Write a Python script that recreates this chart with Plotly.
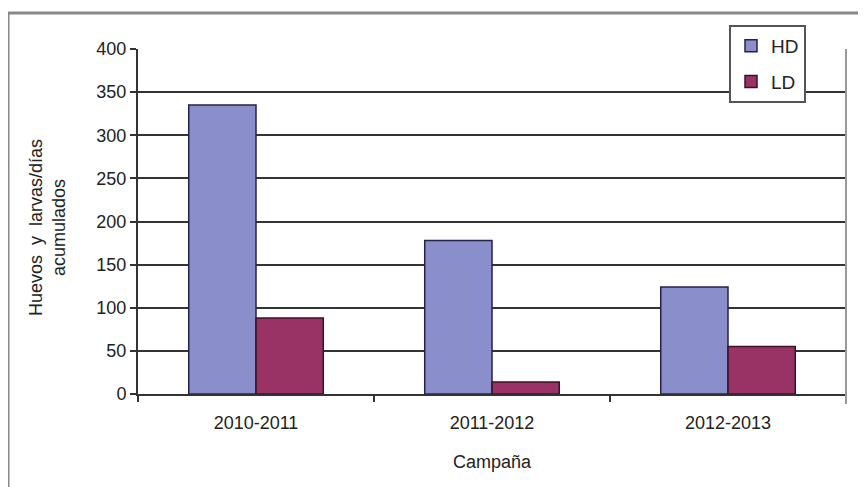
import plotly.graph_objects as go

campaigns = ["2010-2011", "2011-2012", "2012-2013"]
hd_values = [335, 178, 124]
ld_values = [88, 14, 55]
y_ticks = [0, 50, 100, 150, 200, 250, 300, 350, 400]

# page body has an 8px margin; compensate so screenshot coords match reference
OFF = 8
W, H = 866, 487
L, R, T, B = 138 - OFF, 20 + OFF, 49 - OFF, 93 + OFF
pw, ph = W - L - R, H - T - B

def px_x(x):
    return (x - OFF - L) / pw

def px_y(y):
    return (H - B - (y - OFF)) / ph

fig = go.Figure()
fig.add_trace(go.Bar(name="HD", x=campaigns, y=hd_values,
                     marker=dict(color="#8A8FCC", line=dict(color="#23234a", width=1.5)),
                     legendgroup="a"))
fig.add_trace(go.Bar(name="LD", x=campaigns, y=ld_values,
                     marker=dict(color="#993366", line=dict(color="#3a1226", width=1.5)),
                     legendgroup="b"))

font = "Liberation Sans, Arial, sans-serif"
fig.update_layout(
    width=W, height=H,
    margin=dict(l=L, r=R, t=T, b=B),
    paper_bgcolor="white", plot_bgcolor="white",
    barmode="group", bargap=0.43, bargroupgap=0,
    font=dict(family=font, size=18, color="#222"),
    showlegend=True,
    legend=dict(x=px_x(729), y=px_y(25), xanchor="left", yanchor="top",
                bgcolor="white", bordercolor="#555", borderwidth=2,
                font=dict(size=19, color="#222"), tracegroupgap=8,
                itemwidth=30),
    xaxis=dict(type="category", showgrid=False, showline=True, linecolor="#333", linewidth=2,
               ticks="outside", tickson="boundaries", ticklen=6, tickcolor="#333", tickwidth=2,
               ticklabelstandoff=11,
               tickfont=dict(size=18), title=dict(text="Campaña", font=dict(size=18), standoff=24)),
    yaxis=dict(range=[0, 400], tickvals=y_ticks, showgrid=True, gridcolor="#333", gridwidth=1.5,
               showline=True, linecolor="#333", linewidth=2, zeroline=False,
               ticks="outside", ticklen=6, tickcolor="#333", tickwidth=2,
               tickfont=dict(size=18)),
)

# y-axis title as two-line annotation
fig.add_annotation(text="Huevos  y  larvas/días<br>acumulados", xref="paper", yref="paper",
                   x=px_x(47), y=px_y(228), xanchor="center", yanchor="middle",
                   textangle=-90, showarrow=False, font=dict(size=18, color="#222"))

# right border of plot area
fig.add_shape(type="line", xref="paper", yref="paper", x0=1, x1=1, y0=px_y(404), y1=1,
              line=dict(color="#999", width=2))
# outer frame (top and left)
fig.add_shape(type="line", xref="paper", yref="paper", x0=px_x(8), x1=px_x(880), y0=px_y(13), y1=px_y(13),
              line=dict(color="#888", width=3))
fig.add_shape(type="line", xref="paper", yref="paper", x0=px_x(8), x1=px_x(8), y0=px_y(13), y1=px_y(500),
              line=dict(color="#888", width=3))

fig.write_html("out.html")
